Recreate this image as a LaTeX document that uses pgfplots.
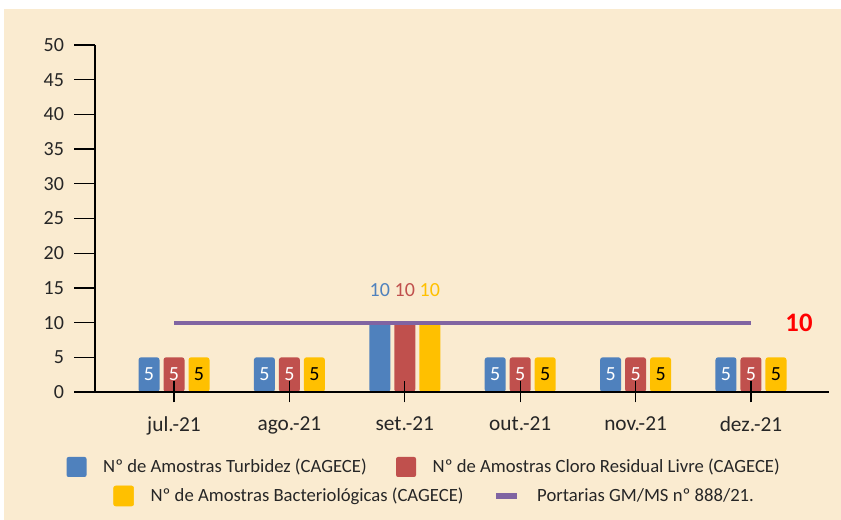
\documentclass[border=0pt]{standalone}
\usepackage{fontspec}
\setmainfont{Carlito}
\usepackage{pgfplots}
\pgfplotsset{compat=1.18}
\definecolor{cBlue}{HTML}{4F81BD}
\definecolor{cRed}{HTML}{C0504D}
\definecolor{cGold}{HTML}{FFC000}
\definecolor{cPurple}{HTML}{8064A2}
\definecolor{cBeige}{HTML}{FAEBD0}
\definecolor{cLeader}{HTML}{E6DAC4}
\definecolor{cText}{HTML}{262626}

\begin{document}
\begin{tikzpicture}
% fundo
\fill[white] (0,0) rectangle (630.75pt,390pt);
\fill[cBeige] (3pt,0) rectangle (630.75pt,383.25pt);

\begin{axis}[
    at={(71.25pt,96pt)}, anchor=south west,
    scale only axis, width=550.5pt, height=260.25pt,
    xmin=-0.6846, xmax=5.676, ymin=0, ymax=50,
    axis x line=bottom, axis y line=left,
    axis line style={-, line width=1pt, black},
    xtick={0,...,5},
    xticklabels={jul.-21, ago.-21, set.-21, out.-21, nov.-21, dez.-21},
    ytick={0,5,...,50},
    major tick length=15.75pt,
    xtick align=center, ytick align=outside,
    tick style={black, line width=1pt},
    /pgf/number format/assume math mode=true,
    xticklabel style={font=\fontsize{16}{19}\selectfont, text=cText, yshift=-7pt},
    yticklabel style={font=\fontsize{15}{18}\selectfont, text=cText, xshift=-4pt},
    axis on top,
    legend style={at={(0.4489,-0.2161)}, anchor=center, draw=none, fill=none,
        font=\fontsize{14}{17}\selectfont, text=cText,
        /tikz/every odd column/.append style={column sep=10.5pt},
        /tikz/every even column/.append style={column sep=20pt}},
    legend columns=2,
]
% Turbidez
\addplot[ybar, fill=cBlue, draw=none, bar width=15.75pt, bar shift=-18.75pt,
    rounded corners=2pt, nodes near coords,
    every node near coord/.append style={text=white, anchor=center, yshift=-13pt,
        xshift=-18.75pt, font=\fontsize{15}{18}\selectfont},
    legend image code/.code={\fill[cBlue, rounded corners=1.5pt] (0pt,-7.5pt) rectangle (15pt,7.5pt);}]
    coordinates {(0,5) (1,5) (3,5) (4,5) (5,5)};
% Cloro residual livre
\addplot[ybar, fill=cRed, draw=none, bar width=15.75pt, bar shift=0pt,
    rounded corners=2pt, nodes near coords,
    every node near coord/.append style={text=white, anchor=center, yshift=-13pt,
        font=\fontsize{15}{18}\selectfont},
    legend image code/.code={\fill[cRed, rounded corners=1.5pt] (0pt,-7.5pt) rectangle (15pt,7.5pt);}]
    coordinates {(0,5) (1,5) (3,5) (4,5) (5,5)};
% Bacteriologicas
\addplot[ybar, fill=cGold, draw=none, bar width=15.75pt, bar shift=18.75pt,
    rounded corners=2pt, nodes near coords, forget plot,
    every node near coord/.append style={text=black, anchor=center, yshift=-13pt,
        xshift=18.75pt, font=\fontsize{15}{18}\selectfont}]
    coordinates {(0,5) (1,5) (3,5) (4,5) (5,5)};
% set.-21
\addplot[ybar, fill=cBlue, draw=none, bar width=15.75pt, bar shift=-18.75pt,
    rounded corners=2pt, nodes near coords, forget plot,
    every node near coord/.append style={text=cBlue, anchor=center, yshift=24.75pt,
        xshift=-18.75pt, font=\fontsize{15}{18}\selectfont}]
    coordinates {(2,10)};
\addplot[ybar, fill=cRed, draw=none, bar width=15.75pt, bar shift=0pt,
    rounded corners=2pt, nodes near coords, forget plot,
    every node near coord/.append style={text=cRed, anchor=center, yshift=24.75pt,
        font=\fontsize{15}{18}\selectfont}]
    coordinates {(2,10)};
\addplot[ybar, fill=cGold, draw=none, bar width=15.75pt, bar shift=18.75pt,
    rounded corners=2pt, nodes near coords, forget plot,
    every node near coord/.append style={text=cGold, anchor=center, yshift=24.75pt,
        xshift=18.75pt, font=\fontsize{15}{18}\selectfont}]
    coordinates {(2,10)};
% Portaria
\addplot[cPurple, line width=3pt, mark=none, forget plot]
    coordinates {(0,10) (1,10) (2,10) (3,10) (4,10) (5,10)};
\draw[cLeader, line width=1.2pt] (axis cs:5,10) ++(1pt,0) -- ++(19.5pt,0);
\node[text=red, font=\fontsize{20}{24}\selectfont\bfseries, anchor=center]
    at (axis cs:5,10) [xshift=36pt] {10};
\legend{Nº de Amostras Turbidez (CAGECE), Nº de Amostras Cloro Residual Livre (CAGECE)}
\end{axis}

% segunda linha da legenda
\begin{axis}[
    at={(71.25pt,96pt)}, anchor=south west,
    scale only axis, width=550.5pt, height=260.25pt,
    xmin=0, xmax=1, ymin=0, ymax=1, hide axis,
    legend style={at={(0.4632,-0.2997)}, anchor=center, draw=none, fill=none,
        font=\fontsize{14}{17}\selectfont, text=cText,
        /tikz/every odd column/.append style={column sep=10.5pt},
        /tikz/every even column/.append style={column sep=20pt}},
    legend columns=2,
]
\addlegendimage{legend image code/.code={\fill[cGold, rounded corners=1.5pt] (0pt,-7.5pt) rectangle (15pt,7.5pt);}}
\addlegendentry{Nº de Amostras Bacteriológicas (CAGECE)}
\addlegendimage{legend image code/.code={\draw[cPurple, line width=5pt] (0pt,0pt) -- (15.75pt,0pt);}}
\addlegendentry{Portarias GM/MS nº 888/21.}
\end{axis}
\end{tikzpicture}
\end{document}
